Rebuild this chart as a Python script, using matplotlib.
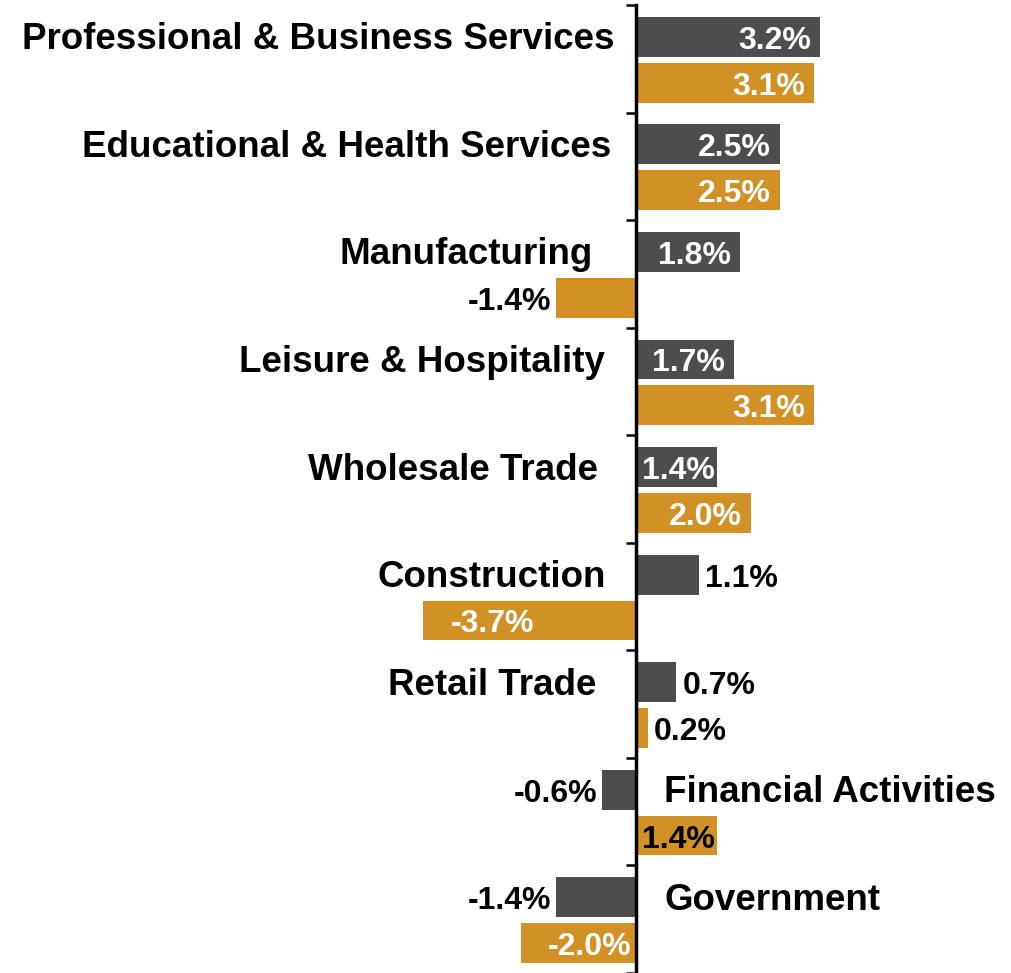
import matplotlib.pyplot as plt
import numpy as np

plt.rcParams["font.family"] = ["Liberation Sans", "DejaVu Sans"]
plt.rcParams["font.weight"] = "bold"

# Employment growth by industry, two periods
categories = ["Professional & Business Services", "Educational & Health Services",
              "Manufacturing", "Leisure & Hospitality", "Wholesale Trade",
              "Construction", "Retail Trade", "Financial Activities", "Government"]
gray_vals = [3.2, 2.5, 1.8, 1.7, 1.4, 1.1, 0.7, -0.6, -1.4]
gold_vals = [3.1, 2.5, -1.4, 3.1, 2.0, -3.7, 0.2, 1.4, -2.0]

# label placement: inside the bar or outside it
gray_inside = [True, True, True, True, True, False, False, False, False]
gold_inside = [True, True, False, True, True, True, False, True, True]
gold_inside_color = ["white"] * 7 + ["black", "white"]
# gap (pixels) between category label and axis
cat_gap = [22, 25, 43, 31, 38, 30, 40, 28, 28]

GRAY = "#4d4d4d"
GOLD = "#d19124"
px = 1 / 57.5  # one pixel in data units (x)
py = 1 / 108   # one pixel in data units (y)

fig = plt.figure(figsize=(10.12, 9.73), dpi=100)
ax = fig.add_axes([0, 0, 1, 1])

y = np.arange(len(categories))
h = 0.37
y_gray = y + 0.296
y_gold = y + 0.722

ax.barh(y_gray, gray_vals, height=h, color=GRAY)
ax.barh(y_gold, gold_vals, height=h, color=GOLD)

fs_val = 23
fs_cat = 26.5


def put_label(v, yy, inside, color_in):
    txt = f"{v:.1f}%"
    yy = yy + 4 * py
    kw = dict(va="center", fontsize=fs_val, fontweight="bold")
    if inside:
        if v >= 1.5:
            ax.text(v - 9 * px, yy, txt, ha="right", color=color_in, **kw)
        elif v > 0:
            ax.text(v / 2 + 2 * px, yy, txt, ha="center", color=color_in, **kw)
        else:
            ax.text(v + 27 * px, yy, txt, ha="left", color=color_in, **kw)
    else:
        if v >= 0:
            ax.text(v + 6 * px, yy, txt, ha="left", color="black", **kw)
        else:
            ax.text(v - 4 * px, yy, txt, ha="right", color="black", **kw)


for i in range(len(categories)):
    put_label(gray_vals[i], y_gray[i], gray_inside[i], "white")
    put_label(gold_vals[i], y_gold[i], gold_inside[i], gold_inside_color[i])
    if gray_vals[i] >= 0:
        ax.text(-cat_gap[i] * px, y_gray[i] + 3 * py, categories[i], ha="right",
                va="center", fontsize=fs_cat, fontweight="bold", color="black")
    else:
        ax.text(cat_gap[i] * px, y_gray[i] + 3 * py, categories[i], ha="left",
                va="center", fontsize=fs_cat, fontweight="bold", color="black")

ax.set_xlim(-636 * px, 376 * px)
ax.set_ylim((973 - 5) * py, -5 * py)

for s in ["top", "right", "bottom"]:
    ax.spines[s].set_visible(False)
ax.spines["left"].set_position(("data", 0))
ax.spines["left"].set_linewidth(2.5)
ax.spines["left"].set_bounds(0, 9)
ax.set_yticks(np.arange(len(categories) + 1))
ax.set_yticklabels([])
ax.tick_params(axis="y", direction="out", length=7, width=1.8)
ax.set_xticks([])
ax.patch.set_alpha(0)

fig.savefig("out.png", dpi=100)
